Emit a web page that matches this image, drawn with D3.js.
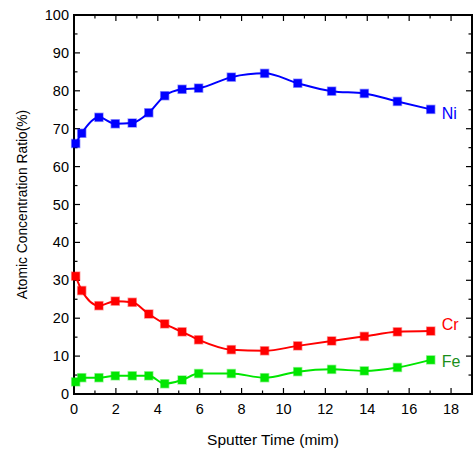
<!DOCTYPE html>
<html>
<head>
<meta charset="utf-8">
<script src="https://cdn.jsdelivr.net/npm/d3@7"></script>
<style>
  body { margin: 0; background: #fff; }
  svg { font-family: "Liberation Sans", Arial, sans-serif; }
</style>
</head>
<body>
<div id="chart"></div>
<script>
// sputter time (min) at each measurement
const times = [0.08, 0.37, 1.19, 1.97, 2.78, 3.57, 4.33, 5.16, 5.95, 7.51, 9.1, 10.68, 12.3, 13.86, 15.44, 17.03];
const ni = [66.1, 68.8, 73.0, 71.3, 71.5, 74.2, 78.7, 80.4, 80.7, 83.6, 84.6, 82.0, 79.9, 79.3, 77.2, 75.1];
const cr = [31.1, 27.3, 23.3, 24.5, 24.2, 21.1, 18.5, 16.4, 14.3, 11.7, 11.4, 12.7, 14.0, 15.2, 16.4, 16.6];
const fe = [3.2, 4.3, 4.3, 4.8, 4.8, 4.8, 2.7, 3.7, 5.4, 5.4, 4.3, 5.9, 6.5, 6.1, 7.0, 9.0];
const seriesNames = ["Ni", "Cr", "Fe"];
const xTicks = [0, 2, 4, 6, 8, 10, 12, 14, 16, 18];
const yTicks = [0, 10, 20, 30, 40, 50, 60, 70, 80, 90, 100];

const W = 474, H = 451;
const margin = {top: 15, right: 2, bottom: 57, left: 74};

const svg = d3.select("#chart").append("svg")
    .attr("width", W)
    .attr("height", H);

const x = d3.scaleLinear().domain([0, 19]).range([margin.left, W - margin.right]);
const y = d3.scaleLinear().domain([0, 100]).range([H - margin.bottom, margin.top]);

const colors = {Ni: "#0000ff", Cr: "#ff0000", Fe: "#00e600"};
const labelColors = {Ni: "#0000ff", Cr: "#ff0000", Fe: "#1a8f1a"};
const labelShift = {Ni: 4, Cr: -7, Fe: 2};
const values = {Ni: ni, Cr: cr, Fe: fe};

// axes, ticks point inward
const xMinor = d3.range(0, 20, 1);
const yMinor = d3.range(0, 101, 5);

function tickLen(major) { return major ? 6 : 3.5; }

const g = svg.append("g").attr("stroke", "#000").attr("stroke-width", 1.2);
// bottom & top
xMinor.forEach(v => {
    let L = tickLen(v % 2 === 0);
    g.append("line").attr("x1", x(v)).attr("x2", x(v)).attr("y1", y(0)).attr("y2", y(0) - L);
    g.append("line").attr("x1", x(v)).attr("x2", x(v)).attr("y1", y(100)).attr("y2", y(100) + L);
});
// left & right
yMinor.forEach(v => {
    let L = tickLen(v % 10 === 0);
    g.append("line").attr("x1", x(0)).attr("x2", x(0) + L).attr("y1", y(v)).attr("y2", y(v));
    g.append("line").attr("x1", x(19)).attr("x2", x(19) - L).attr("y1", y(v)).attr("y2", y(v));
});

svg.append("rect")
    .attr("x", x(0)).attr("y", y(100))
    .attr("width", x(19) - x(0)).attr("height", y(0) - y(100))
    .attr("fill", "none").attr("stroke", "#000").attr("stroke-width", 2);

svg.selectAll(".xlab")
  .data(xTicks)
  .join("text")
    .attr("class", "xlab")
    .attr("x", d => x(d))
    .attr("y", y(0) + 15)
    .attr("dy", "0.35em")
    .attr("text-anchor", "middle")
    .attr("font-size", 14.5)
    .text(d => d);

svg.selectAll(".ylab")
  .data(yTicks)
  .join("text")
    .attr("class", "ylab")
    .attr("x", x(0) - 5)
    .attr("y", d => y(d))
    .attr("dy", "0.35em")
    .attr("text-anchor", "end")
    .attr("font-size", 14.5)
    .text(d => d);

svg.append("text")
    .attr("x", (x(0) + x(19)) / 2)
    .attr("y", 440)
    .attr("dy", "0.35em")
    .attr("text-anchor", "middle")
    .attr("font-size", 15.5)
    .text("Sputter Time (mim)");

svg.append("text")
    .attr("transform", `translate(22,${(y(0) + y(100)) / 2}) rotate(-90)`)
    .attr("dy", "0.35em")
    .attr("text-anchor", "middle")
    .attr("font-size", 13.8)
    .text("Atomic Concentration Ratio(%)");

const line = d3.line()
    .x(d => x(d[0]))
    .y(d => y(d[1]))
    .curve(d3.curveMonotoneX);

seriesNames.forEach(name => {
    const pts = times.map((t, i) => [t, values[name][i]]);
    svg.append("path")
        .attr("d", line(pts))
        .attr("fill", "none")
        .attr("stroke", colors[name])
        .attr("stroke-width", 2);
    svg.selectAll(".m" + name)
      .data(pts)
      .join("rect")
        .attr("class", "m" + name)
        .attr("x", d => x(d[0]) - 4)
        .attr("y", d => y(d[1]) - 4)
        .attr("width", 8)
        .attr("height", 8)
        .attr("fill", colors[name])
        .attr("stroke", colors[name])
        .attr("stroke-opacity", 0.4)
        .attr("stroke-width", 1.5);
    const last = pts[pts.length - 1];
    svg.append("text")
        .attr("x", x(last[0]) + 11)
        .attr("y", y(last[1]) + labelShift[name])
        .attr("dy", "0.35em")
        .attr("font-size", 16)
        .attr("fill", labelColors[name])
        .text(name);
});
</script>
</body>
</html>
